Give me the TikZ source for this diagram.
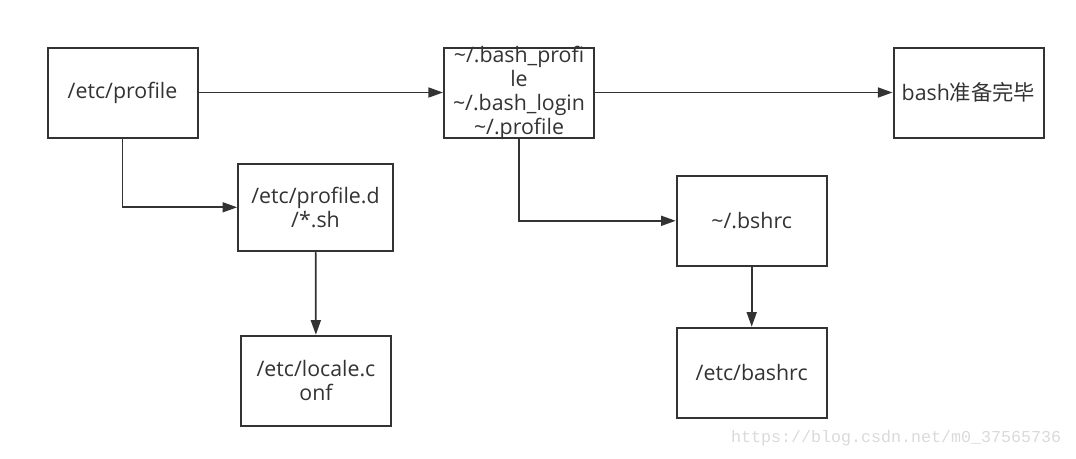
\documentclass[tikz,border=0pt]{standalone}
\usepackage{fontspec}
\setmainfont{Open Sans}
\newfontfamily\cjk{Noto Sans CJK SC}
\newfontfamily\markfont{Liberation Mono}
\usetikzlibrary{arrows.meta}
\definecolor{ink}{HTML}{333333}
\definecolor{wmark}{HTML}{DADADA}

\begin{document}
\begin{tikzpicture}[x=0.75pt,y=-0.75pt,
    box/.style={draw=ink,line width=1.5pt,minimum width=112.5pt,minimum height=67.5pt,
      inner sep=0pt,align=center,text=ink,font=\fontsize{16}{18}\selectfont},
    flow/.style={draw=ink,line width=1.3pt,-{Triangle[length=11pt,width=7.5pt]}}]
    \useasboundingbox (0,0) rectangle (1076,458);
    % login shell
    \node[box] (profile) at (122.5,92.5) {/etc/profile};
    \node[box,inner ysep=-6pt] (userprofile) at (519,92.5)
      {\textasciitilde/.bash\_profi\\le\\\textasciitilde/.bash\_login\\\textasciitilde/.profile};
    \node[box] (ready) at (968.5,92.5) {bash{\cjk 准备完毕}};
    \node[box,minimum width=116pt,minimum height=65pt] (profiled) at (315.5,207.3) {/etc/profile.d\\/*.sh};
    \node[box] (locale) at (316,380.8) {/etc/locale.c\\onf};
    % interactive shell
    \node[box] (bshrc) at (751.7,220.8) {\textasciitilde/.bshrc};
    \node[box] (bashrc) at (751.7,372.7) {/etc/bashrc};
    \draw[flow] (profile) -- (userprofile);
    \draw[flow] (userprofile) -- (ready);
    \draw[flow] (profile) |- (profiled);
    \draw[flow] (profiled) -- (locale);
    \draw[flow] (userprofile) |- (bshrc);
    \draw[flow] (bshrc) -- (bashrc);
    \node[text=wmark,font=\markfont\fontsize{12.5}{14}\selectfont,anchor=east] (blogmark) at (1066,438.5)
      {https://blog.csdn.net/m0\_37565736};
\end{tikzpicture}
\end{document}
